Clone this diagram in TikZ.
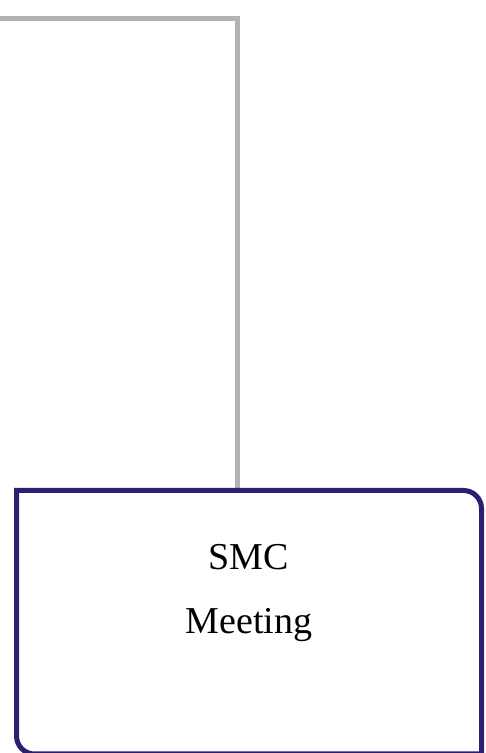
\documentclass[tikz,border=0pt]{standalone}
\usepackage{fontspec}
\setmainfont{Liberation Serif}
\usepackage{tikz}

\definecolor{boxline}{RGB}{44,30,112}
\definecolor{linkgray}{RGB}{179,179,179}

\begin{document}
\begin{tikzpicture}[x=1pt,y=1pt,
			main box/.style={rectangle,minimum width=465pt,minimum height=263.5pt,inner sep=0pt,outer sep=0pt},
			link/.style={draw=linkgray,line width=5pt},
			frame/.style={draw=boxline,line width=5pt}]
		\useasboundingbox (0,0) rectangle (486,753);

		\node[main box] (box) at (249,130.75) {};
		\node[align=center,font=\fontsize{38}{64}\selectfont] (title) at (249,159.6) {SMC\\Meeting};

		\coordinate (start) at (0,734.7);
		\draw[link] (start) -| ([xshift=-11.3pt]box.north);

		\draw[frame] (box.north west) -- ([xshift=-18pt]box.north east)
		arc[start angle=90,end angle=0,radius=18pt] -- (box.south east)
		-- ([xshift=18pt]box.south west)
		arc[start angle=270,end angle=180,radius=18pt] -- cycle;
	\end{tikzpicture}
\end{document}
